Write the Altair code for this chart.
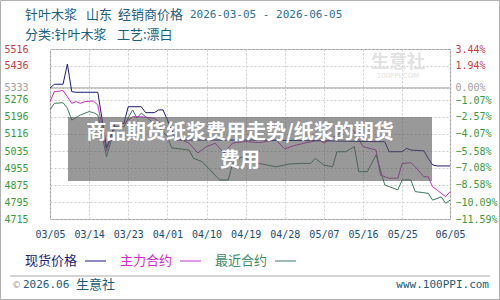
import altair as alt
import pandas as pd
from datetime import date, timedelta

START = date(2026, 3, 5)
END = date(2026, 6, 5)

series_names = ["现货价格", "主力合约", "最近合约"]
series_colors = ["#1b1b78", "#c232c2", "#3b7a5e"]

# day offsets from 2026-03-05 and values
spot_days = [0, 1, 3, 4, 5, 6, 11, 13, 15, 17, 18, 21, 22, 24, 25, 26, 28, 29, 45, 60, 77, 78, 81, 82, 83, 86, 87, 88, 89, 92]
spot_vals = [5332, 5350, 5350, 5445, 5315, 5312, 5312, 5050, 5166, 5166, 5244, 5244, 5216, 5216, 5229, 5229, 5134, 5087, 5087, 5084, 5079, 5032, 5032, 5048, 5040, 5036, 5000, 4970, 4965, 4965]

main_days = [0, 1, 3, 4, 5, 6, 7, 8, 10, 11, 13, 15, 17, 18, 19, 21, 24, 26, 28, 30, 32, 34, 36, 38, 40, 42, 45, 48, 52, 54, 56, 59, 62, 63, 66, 68, 69, 72, 75, 76, 78, 80, 81, 83, 84, 86, 87, 88, 89, 91, 92]
main_vals = [5268, 5315, 5320, 5291, 5260, 5268, 5260, 5268, 5271, 5252, 5035, 5166, 5166, 5181, 5197, 5197, 5189, 5158, 5119, 5090, 5072, 5026, 5056, 5072, 5025, 5073, 5080, 5075, 5087, 5045, 5060, 5075, 5087, 5073, 5110, 5144, 5158, 5056, 5040, 4922, 4907, 4907, 4977, 4980, 4961, 4914, 4914, 4867, 4852, 4820, 4844]

near_days = [0, 1, 3, 4, 5, 7, 9, 10, 11, 13, 15, 17, 18, 19, 20, 21, 23, 25, 27, 28, 32, 33, 35, 39, 41, 42, 44, 48, 52, 55, 58, 60, 61, 63, 65, 66, 68, 70, 71, 73, 75, 77, 80, 81, 83, 84, 87, 88, 90, 91, 92]
near_vals = [5229, 5260, 5263, 5237, 5181, 5205, 5221, 5216, 5205, 5009, 5150, 5150, 5191, 5229, 5191, 5214, 5181, 5148, 5103, 5050, 5040, 5001, 4985, 4899, 4899, 4977, 5007, 4977, 4961, 4974, 4977, 4977, 5001, 4969, 4961, 5032, 5032, 5056, 4938, 4938, 5017, 4875, 4852, 4899, 4899, 4844, 4836, 4804, 4819, 4789, 4804]

y_ticks = [5516, 5436, 5333, 5276, 5196, 5116, 5035, 4955, 4875, 4795, 4715]
pct_ticks = [3.44, 1.94, 0.00, -1.07, -2.57, -4.07, -5.58, -7.08, -8.58, -10.09, -11.59]
x_tick_dates = ["2026-03-05", "2026-03-14", "2026-03-23", "2026-04-01", "2026-04-10", "2026-04-19",
                "2026-04-28", "2026-05-07", "2026-05-16", "2026-05-25", "2026-06-05"]

overlay_line1 = "商品期货纸浆费用走势/纸浆的期货"
overlay_line2 = "费用"

rows = []
for name, days, vals in [(series_names[2], near_days, near_vals),
                         (series_names[1], main_days, main_vals),
                         (series_names[0], spot_days, spot_vals)]:
    for d, v in zip(days, vals):
        rows.append({"date": (START + timedelta(days=d)).isoformat(), "value": v, "series": name})
df = pd.DataFrame(rows)


def dt(s):
    y, m, d = map(int, s.split("-"))
    return alt.DateTime(year=y, month=m, date=d, utc=True)


W, H = 400, 170
one = pd.DataFrame({"k": [0]})

x_enc = alt.X("date:T",
              scale=alt.Scale(type="utc", domain=[dt(START.isoformat()), dt(END.isoformat())]),
              axis=alt.Axis(values=[dt(s) for s in x_tick_dates], format="%m/%d", title=None,
                            ticks=False, domain=False, grid=True, gridDash=[2, 2], gridColor="#cccccc",
                            labelColor="#1a4d6e", labelPadding=10, labelFont="DejaVu Sans Mono",
                            labelFontSize=10, labelOverlap=False, labelFlush=False))

left_color = {"condition": [{"test": "datum.value > 5400", "value": "#c84040"},
                            {"test": "datum.value == 5333", "value": "#a0a0a0"}],
              "value": "#3a9a3a"}
right_color = {"condition": [{"test": "datum.value > 1", "value": "#c84040"},
                             {"test": "datum.value == 0", "value": "#a0a0a0"}],
               "value": "#3a9a3a"}

lines = alt.Chart(df).mark_line(strokeWidth=1).encode(
    x=x_enc,
    y=alt.Y("value:Q", scale=alt.Scale(domain=[y_ticks[-1], y_ticks[0]], nice=False, zero=False),
            axis=alt.Axis(orient="left", values=y_ticks, format="d", title=None, ticks=False, domain=False,
                          grid=True, gridDash=[2, 2], gridColor="#cccccc", labelPadding=22,
                          labelFont="DejaVu Sans Mono", labelFontSize=10, labelColor=left_color)),
    color=alt.Color("series:N", scale=alt.Scale(domain=series_names, range=series_colors), legend=None),
    detail="series:N",
)

zero_rule = alt.Chart(pd.DataFrame({"p": [0.0]})).mark_rule(color="#a0a0a0", strokeWidth=1).encode(
    y=alt.Y("p:Q", scale=alt.Scale(domain=[pct_ticks[-1], pct_ticks[0]], nice=False, zero=False),
            axis=alt.Axis(orient="right", values=pct_ticks, format=".2f", labelExpr="datum.label + '%'",
                          title=None, ticks=False, domain=False, grid=False, labelPadding=5,
                          labelFont="DejaVu Sans Mono", labelFontSize=10, labelColor=right_color))
)

CJK = "Noto Sans CJK SC"


def txt(s, x, y, size=13, color="#1a6080", font=CJK, align="left", weight="normal", **kw):
    return alt.Chart(one).mark_text(text=s, align=align, baseline="middle", fontSize=size, color=color,
                                    font=font, fontWeight=weight, **kw).encode(x=alt.value(x), y=alt.value(y))


def seg(x1, x2, y, color, width=1):
    return alt.Chart(one).mark_rule(color=color, strokeWidth=width).encode(
        x=alt.value(x1), x2=alt.value(x2), y=alt.value(y))


watermark = [
    txt("生意社", 348, 14, size=18, color="#e2e2e2", align="center", weight="bold"),
    txt("100PPI.COM", 348, 27, size=7, color="#e2e2e2", font="DejaVu Sans", align="center"),
]

overlay = alt.Chart(one).mark_rect(color="#555555", opacity=0.6).encode(
    x=alt.value(18), x2=alt.value(382), y=alt.value(68), y2=alt.value(132))

overlay_text = [
    txt(overlay_line1, 190, 84, size=20, color="#ffffff", align="center", weight="bold"),
    txt(overlay_line2, 190, 112, size=20, color="#ffffff", align="center", weight="bold"),
]

titles = [
    txt("针叶木浆", -25, -34),
    txt("山东", 36, -34),
    txt("经销商价格", 68, -34),
    txt("2026-03-05 - 2026-06-05", 140, -34, size=11, font="DejaVu Sans Mono", color="#2a7090"),
    txt("分类:针叶木浆", -25, -14),
    txt("工艺:漂白", 67, -14),
]

legend = [
    txt(series_names[0], -25, 212, color=series_colors[0]),
    seg(35, 56, 212, series_colors[0]),
    txt(series_names[1], 70, 212, color="#d028d0"),
    seg(130, 151, 212, series_colors[1]),
    txt(series_names[2], 165, 212, color="#3a8a6a"),
    seg(225, 246, 212, series_colors[2]),
]

footer = [
    seg(-40, 440, 227, "#aaaaaa"),
    txt("©", -38, 236, size=9, color="#999999", font="DejaVu Sans"),
    txt("2026.06", -27, 236, size=11, font="DejaVu Sans Mono", color="#1a5a7a"),
    txt("生意社", 26, 236, size=13, color="#1a5a7a"),
    txt("www.100PPI.com", 439, 236, size=11, font="DejaVu Sans Mono", color="#1a5a7a", align="right"),
]

border = alt.Chart(one).mark_rect(fillOpacity=0, stroke="#b0b0b0", strokeWidth=1).encode(
    x=alt.value(-49.5), x2=alt.value(449.5), y=alt.value(-48.5), y2=alt.value(250.5))

chart = alt.layer(
    *watermark, zero_rule, lines, overlay, *overlay_text, *titles, *legend, *footer, border
).resolve_scale(y="independent").properties(
    width=W, height=H, autosize="none",
    padding={"left": 50, "top": 49, "right": 50, "bottom": 81},
    background="white",
).configure_view(stroke="#999999", strokeWidth=1)

chart.save("out.html", embed_options={"renderer": "svg", "actions": False})
